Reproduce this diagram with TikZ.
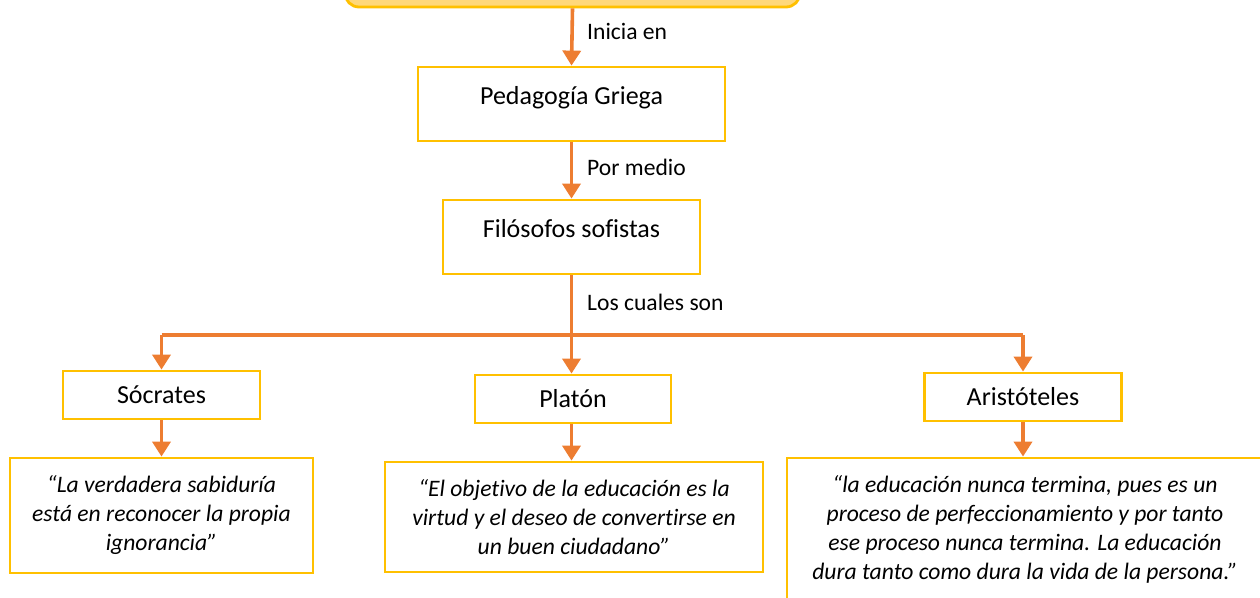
\documentclass[tikz,border=0pt]{standalone}
\usepackage{fontspec}
\setmainfont{Carlito}[Ligatures=NoCommon]
\usetikzlibrary{arrows.meta,positioning}
\definecolor{dorado}{HTML}{FFC000}
\definecolor{naranja}{HTML}{ED7D31}
\definecolor{crema}{HTML}{FFD87A}

\tikzset{
    caja/.style={draw=dorado, line width=2.8pt, inner sep=0pt,
        font=\fontsize{26}{30}\selectfont},
    cita/.style={caja, font=\fontsize{23.6}{29}\selectfont\itshape, align=center},
    etiqueta/.style={anchor=west, inner sep=0pt, font=\fontsize{23.6}{28}\selectfont},
    flecha/.style={naranja, line width=3.6pt, -{Triangle[width=18pt,length=15pt]}},
    rama/.style={naranja, line width=3.6pt},
}

\begin{document}
\begin{tikzpicture}[x=1pt, y=-1pt]

    \useasboundingbox (0, 0) rectangle (1260, 597);
    \clip (0, 0) rectangle (1260, 597);

    % recuadro superior (cortado)
    \node[caja, fill=crema, rounded corners=14pt, minimum width=455, minimum height=60] (inicio) at (572.5, -23) {};

    \node[caja, minimum width=307, minimum height=74, text height=12pt, text depth=12pt] (pedagogia) at (571.5, 104) {Pedagogía Griega};
    \node[caja, minimum width=257, minimum height=74, text height=12pt, text depth=12pt] (filosofos) at (571.5, 237) {Filósofos sofistas};

    \node[caja, minimum width=197, minimum height=48] (socrates) at (161.5, 395) {Sócrates};
    \node[caja, minimum width=196, minimum height=48] (platon) at (573, 399) {Platón};
    \node[caja, minimum width=197, minimum height=48] (aristoteles) at (1023, 397) {Aristóteles};

    \node[cita, minimum width=303, minimum height=115] (citaS) at (161.5, 515.5)
        {“La verdadera sabiduría\\ está en reconocer la propia\\ ignorancia”};
    \node[cita, minimum width=378, minimum height=110] (citaP) at (574, 517)
        {“El objetivo de la educación es la\\ virtud y el deseo de convertirse en\\ un buen ciudadano”};
    \node[cita, minimum width=476, minimum height=142] (citaA) at (1025, 529)
        {“la educación nunca termina, pues es un\\ proceso de perfeccionamiento y por tanto\\ ese proceso nunca termina. La educación\\ dura tanto como dura la vida de la persona.”};

    \node[etiqueta] (l1) at (587, 31) {Inicia en};
    \node[etiqueta] (l2) at (587, 167) {Por medio};
    \node[etiqueta] (l3) at (587, 302) {Los cuales son};

    \coordinate (union) at (571.5, 335);

    \draw[flecha] (inicio.south) -- (pedagogia.north);
    \draw[flecha] (pedagogia.south) -- (filosofos.north);
    \draw[rama] (filosofos.south) -- (union);
    \draw[rama] (socrates.north |- union) -- (aristoteles.north |- union);
    \draw[flecha] (union) -- (union |- platon.north);
    \draw[flecha] (socrates.north |- union) -- (socrates.north);
    \draw[flecha] (aristoteles.north |- union) -- (aristoteles.north);

    \draw[flecha] (socrates.south) -- (citaS.north);
    \draw[flecha] (union |- platon.south) -- (union |- citaP.north);
    \draw[flecha] (aristoteles.south) -- (aristoteles.south |- citaA.north);
    \end{tikzpicture}
\end{document}
